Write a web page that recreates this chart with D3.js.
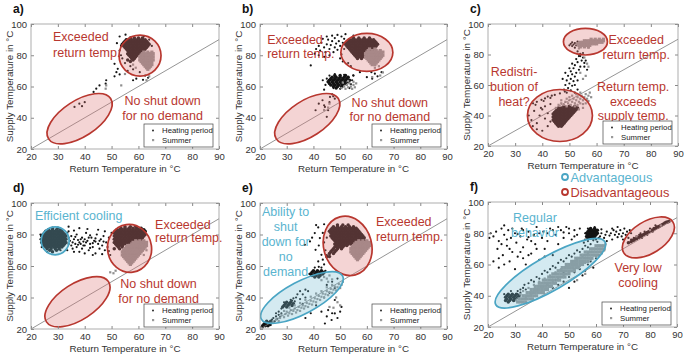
<!DOCTYPE html>
<html>
<head>
<meta charset="utf-8">
<script src="https://cdn.jsdelivr.net/npm/d3@7"></script>
<style>
  body { margin: 0; background: #fff; }
  svg { display: block; font-family: "Liberation Sans", Arial, Helvetica, sans-serif; }
</style>
</head>
<body>
<svg id="chart" width="685" height="357"></svg>
<script>
const xTicks = [20, 30, 40, 50, 60, 70, 80, 90];
const yTicks = [20, 40, 60, 80, 100];
const xTitle = "Return Temperature in °C";
const yTitle = "Supply Temperature in °C";
const seriesNames = ["Heating period", "Summer"];

// dense cores are listed row by row: [supply temp, [return temps...]]
// loose points are flat lists: x, y, x, y ...

// ---- panel a ----
const aHeatRows = [
  [91, [57, 58.5, 60, 61.5]],
  [90, [55.5, 56.5, 57.5, 58.5, 59.5, 60.5, 61.5, 62.5]],
  [89, [55, 56, 57, 58, 59, 60, 61, 62, 63]],
  [88, [54.5, 55.5, 56.5, 57.5, 58.5, 59.5, 60.5, 61.5, 62.5, 63.5]],
  [87, [54, 55, 56, 57, 58, 59, 60, 61, 62, 63, 64]],
  [86, [54.5, 55.5, 56.5, 57.5, 58.5, 59.5, 60.5, 61.5, 62.5, 63.5]],
  [85, [55, 56, 57, 58, 59, 60, 61, 62, 63]],
  [84, [55.5, 56.5, 57.5, 58.5, 59.5, 60.5, 61.5, 62.5]],
  [83, [56, 57, 58, 59, 60, 61, 62]],
  [82, [56.5, 57.5, 58.5, 59.5, 60.5, 61.5]],
  [81, [56, 57, 58, 59, 60]],
  [80, [56.5, 57.5, 58.5, 59.5]],
  [79, [57, 58, 59]],
  [78, [57.5, 58.5]],
  [77, [56, 58]],
  [76, [57]]
];
const aHeatPts = [55.2,93.2, 53,92, 52,87.7, 53.5,86, 51.1,74.5, 52.3,71.3, 51.8,69.2, 53,67.7, 51.1,66.5, 48,64,
  47.8,61.8, 45.5,60.7, 44.3,58.6, 43.3,56.5, 39,47.4, 36.2,46.9, 38,49, 40,50, 58,64, 59.2,65, 61.7,64.3, 62.5,67,
  63.6,65.6, 60.5,69.2, 54,78, 55,75, 53.5,80, 57,73, 58,71, 56,70, 62,92, 64,90, 65,86, 53,83];
const aSumRows = [
  [82, [62, 63.5, 65]],
  [81, [61.5, 62.5, 63.5, 64.5, 65.5]],
  [80, [61, 62, 63, 64, 65]],
  [79, [60.5, 61.5, 62.5, 63.5, 64.5, 65.5]],
  [78, [61, 62, 63, 64, 65]],
  [77, [60.5, 61.5, 62.5, 63.5, 64.5, 65.5]],
  [76, [61, 62, 63, 64, 65]],
  [75, [61.5, 62.5, 63.5, 64.5]],
  [74, [62, 63, 64, 65]],
  [73, [62.5, 63.5, 64.5]],
  [72, [63, 64]],
  [71, [63.5]]
];
const aSumPts = [48,60.7, 47.8,58.6, 53.6,60.7, 63,64, 55,68, 64,66.5, 58,74, 59,72];

// ---- panel b ----
const bHeatRows = [
  [91, [55, 57, 59, 61]],
  [90, [53.5, 54.5, 55.5, 56.5, 57.5, 58.5, 59.5, 60.5, 61.5, 62.5]],
  [89, [53, 54, 55, 56, 57, 58, 59, 60, 61, 62, 63]],
  [88, [52.5, 53.5, 54.5, 55.5, 56.5, 57.5, 58.5, 59.5, 60.5, 61.5, 62.5, 63.5]],
  [87, [52, 53, 54, 55, 56, 57, 58, 59, 60, 61, 62, 63, 64]],
  [86, [52.5, 53.5, 54.5, 55.5, 56.5, 57.5, 58.5, 59.5, 60.5, 61.5, 62.5, 63.5]],
  [85, [53, 54, 55, 56, 57, 58, 59, 60, 61, 62, 63]],
  [84, [53.5, 54.5, 55.5, 56.5, 57.5, 58.5, 59.5, 60.5, 61.5, 62.5]],
  [83, [54, 55, 56, 57, 58, 59, 60, 61, 62]],
  [82, [54.5, 55.5, 56.5, 57.5, 58.5, 59.5, 60.5, 61.5]],
  [81, [55, 56, 57, 58, 59, 60]],
  [80, [55.5, 56.5, 57.5, 58.5, 59.5]],
  [79, [56, 57, 58, 59]],
  [78, [56.5, 58]],
  [67, [48, 50, 52]],
  [66, [47, 48.5, 50, 51.5, 53]],
  [65, [46.5, 48, 49.5, 51, 52.5]],
  [64, [46, 47.5, 49, 50.5, 52, 53.5]],
  [63, [45.5, 47, 48.5, 50, 51.5, 53]],
  [62, [46, 47.5, 49, 50.5, 52]],
  [61, [46.5, 48, 49.5, 51]],
  [60, [47.5, 49, 50.5]],
  [59, [48.5]]
];
const bHeatPts = [41,84, 42,86, 42.5,83, 43,88, 44,85, 44.5,82, 45,87, 45.5,90, 46,84, 46.5,86.5, 47,89, 47.5,82,
  48,85, 48,91, 48.5,87.5, 49,83.5, 49.5,89, 50,86, 50.5,92, 50.5,80.5, 51,88, 51.5,84, 51.5,90.5, 49,93, 47,92.5,
  45,92, 43.5,90.5, 46,80, 44,79, 39,73.5, 40.5,81, 42,80, 50,78, 51,76, 53,75, 54,73, 52,93.5, 55,92.5,
  44.5,61, 45,65, 47.5,59, 49,60, 50,58.5, 51,60, 53.5,59, 54,61.5, 54.5,64, 55,67, 46,67, 44,58, 43.5,64,
  48,68, 51.5,67.5, 54.9,67.1, 57.4,69.2, 61.7,69.2, 63,68.2, 65.5,69.2, 60,66, 62,65, 64,66.5,
  42,49, 43.4,51.2, 44.3,46.9, 45.5,44.8, 40.8,44.8, 45,40.6, 48,52.2, 46.2,53.3, 47.4,53.7, 44,48, 46,50, 47,55];
const bSumRows = [
  [84, [61, 63]],
  [83, [60.5, 62, 63.5, 65]],
  [82, [60, 61, 62, 63, 64, 65, 66]],
  [81, [59.5, 60.5, 61.5, 62.5, 63.5, 64.5, 65.5]],
  [80, [60, 61, 62, 63, 64, 65, 66]],
  [79, [59.5, 60.5, 61.5, 62.5, 63.5, 64.5, 65.5]],
  [78, [60, 61, 62, 63, 64, 65]],
  [77, [60.5, 61.5, 62.5, 63.5, 64.5]],
  [76, [61, 62, 63, 64]],
  [75, [61.5, 62.5, 63.5]],
  [74, [62, 63]]
];
const bSumPts = [50.5,59, 51.5,60, 52,58.5, 52.5,61, 53,59.5, 53.5,62, 54,60, 54.5,58.5, 55,61, 55.5,59.5, 56,62,
  51,62.5, 53,63.5, 55,63, 45.5,46.5, 44,45, 46,49, 65,67, 66,69, 62,66, 63,72, 64.5,73];

// ---- panel c ----
const cHeatRows = [
  [46, [48, 50, 52]],
  [45, [46, 47, 48, 49, 50, 51, 52, 53]],
  [44, [45.5, 46.5, 47.5, 48.5, 49.5, 50.5, 51.5, 52.5]],
  [43, [45, 46, 47, 48, 49, 50, 51, 52]],
  [42, [44.5, 45.5, 46.5, 47.5, 48.5, 49.5, 50.5, 51.5]],
  [41, [44, 45, 46, 47, 48, 49, 50, 51]],
  [40, [44.5, 45.5, 46.5, 47.5, 48.5, 49.5, 50.5]],
  [39, [44, 45, 46, 47, 48, 49, 50]],
  [38, [44.5, 45.5, 46.5, 47.5, 48.5, 49.5]],
  [37, [44, 45, 46, 47, 48, 49]],
  [36, [44.5, 45.5, 46.5, 47.5, 48.5]],
  [35, [45, 46, 47, 48]],
  [34, [45.5, 46.5, 47.5]],
  [33, [46, 47]]
];
const cHeatPts = [50,86, 50.5,87, 51,85.5, 51.5,86.5, 52,87.5, 52.5,86, 53,87, 53.5,85.5, 51,88, 52,84.5, 53,88.5,
  54,86.5, 55,87.5,
  53,82, 54,80.5, 53.5,79, 55,78, 52.5,77, 54.5,76, 53,75, 55.5,74.5, 52,73, 54,72, 51.5,71, 53.5,70, 50.5,69,
  52.5,68, 51,67, 49.5,66, 52,65.5, 50.5,64, 49,63, 51.5,62.5, 50,61, 48.5,60, 51,59.5, 49.5,58, 48,57, 50.5,56.5,
  49,55, 52,55, 53,57, 54,79, 55,81, 56,76, 51,74, 50,71, 48.5,68, 47.5,64, 52,60, 53,63, 55.5,72, 56.5,70,
  36.6,48, 38,49, 39.7,50.3, 41,51.2, 42,52.4, 43.5,53, 44.6,53.5, 46.5,54.5, 48.3,55.7, 37.5,47, 40.5,49.5, 43,51.5,
  35,40, 36,37, 37,43, 38,35, 39,40, 40,44, 41,38, 42,33, 40,30, 43,36, 38,31, 36.5,33, 42,41.5, 39.5,45, 41,46, 43,47.5];
const cSumRows = [
  [90, [58, 59.5, 61, 62.5]],
  [89, [55.5, 56.5, 57.5, 58.5, 59.5, 60.5, 61.5, 62.5]],
  [88, [54, 55, 56, 57, 58, 59, 60, 61, 62]],
  [87, [53, 54, 55, 56, 57, 58, 59, 60]],
  [86, [53.5, 54.5, 55.5, 56.5, 57.5]],
  [85, [54, 55.5, 57]]
];
const cSumPts = [55.5,78, 56.5,74, 57,72, 54,68, 56,66, 55,64, 53.5,84, 57,84.5,
  46,47, 47,48, 48,47, 48.5,49, 49,46, 49.5,48, 50,50, 50.5,47, 51,49, 51.5,51, 52,48, 52.5,50, 53,52, 53.5,49,
  54,51, 54.5,53, 55,50, 55.5,52, 56,54, 56.5,51, 57,53, 57.5,55, 58,52, 52,46, 53,47, 54,48, 55,47.5, 50,52,
  51,53, 52.5,54, 54,55, 49,51, 47,50, 45,45, 53.5,44, 55,45, 56,48, 57,49.5];

// ---- panel d ----
const dHeatRows = [
  [84, [28, 30]],
  [83, [26.5, 28, 29.5, 31]],
  [82, [25.5, 26.5, 27.5, 28.5, 29.5, 30.5, 31.5]],
  [81, [25, 26, 27, 28, 29, 30, 31, 32]],
  [80, [24.5, 25.5, 26.5, 27.5, 28.5, 29.5, 30.5, 31.5, 32.5]],
  [79, [24, 25, 26, 27, 28, 29, 30, 31, 32, 33]],
  [78, [24.5, 25.5, 26.5, 27.5, 28.5, 29.5, 30.5, 31.5, 32.5]],
  [77, [24, 25, 26, 27, 28, 29, 30, 31, 32, 33]],
  [76, [24.5, 25.5, 26.5, 27.5, 28.5, 29.5, 30.5, 31.5, 32.5]],
  [75, [24, 25, 26, 27, 28, 29, 30, 31, 32, 33]],
  [74, [24.5, 25.5, 26.5, 27.5, 28.5, 29.5, 30.5, 31.5, 32.5]],
  [73, [25, 26, 27, 28, 29, 30, 31, 32]],
  [72, [25.5, 26.5, 27.5, 28.5, 29.5, 30.5, 31.5]],
  [71, [26, 27.5, 29, 30.5]],
  [70, [27, 29.5]],
  [69, [28]],
  [85, [55, 57, 59]],
  [84, [53.5, 55, 56.5, 58, 59.5, 61]],
  [83, [52, 53, 54, 55, 56, 57, 58, 59, 60, 61, 62]],
  [82, [51.5, 52.5, 53.5, 54.5, 55.5, 56.5, 57.5, 58.5, 59.5, 60.5, 61.5, 62.5]],
  [81, [51, 52, 53, 54, 55, 56, 57, 58, 59, 60, 61, 62]],
  [80, [51.5, 52.5, 53.5, 54.5, 55.5, 56.5, 57.5, 58.5, 59.5, 60.5, 61.5, 62.5]],
  [79, [51, 52, 53, 54, 55, 56, 57, 58, 59, 60, 61, 62]],
  [78, [51.5, 52.5, 53.5, 54.5, 55.5, 56.5, 57.5, 58.5, 59.5, 60.5, 61.5]],
  [77, [51, 52, 53, 54, 55, 56, 57, 58, 59, 60, 61]],
  [76, [51.5, 52.5, 53.5, 54.5, 55.5, 56.5, 57.5, 58.5]],
  [75, [51, 52, 53, 54, 55, 56, 57]],
  [74, [51.5, 52.5, 53.5, 54.5, 55.5]],
  [73, [52, 53, 54]],
  [72, [52.5, 54]],
  [71, [51, 53]]
];
const dHeatPts = [34,82, 34.5,76, 35,79, 35,73, 35.5,71, 36,77, 36.5,74, 37,80, 37,72, 37.5,76.5, 38,69, 38.5,74,
  39,78, 39,71, 39.5,75.5, 40,73, 40.5,81, 41,76, 41.5,70, 42,74, 42.5,78, 43,72, 43.5,76, 44,68, 44.5,80, 45,74,
  45.5,71, 46,77, 46.5,73, 47,79, 47.5,70, 48,75, 48.5,72, 49,78, 49.5,67, 50,81, 45,83, 41,83.5, 38,84, 43,67,
  40,68, 36,69, 46.5,67.5, 42,79.5, 47.5,82, 49,69.5, 33.5,70, 34,85, 36,82.5, 44,75.5, 40,77, 38,75, 42,71.5,
  34,78, 35.5,75, 36.5,78.5, 37.5,73.5, 38.5,77, 39.5,73, 40.5,75, 41.5,78, 43,74.5, 44,77.5, 45.5,76, 47,75.5,
  23.5,77, 23.5,80, 24,72, 34,74, 33.5,81, 26,69, 31,70];
const dSumRows = [
  [76, [59, 60.5, 62]],
  [75, [58, 59, 60, 61, 62, 63]],
  [74, [57.5, 58.5, 59.5, 60.5, 61.5, 62.5]],
  [73, [56, 57, 58, 59, 60, 61, 62, 63]],
  [72, [55.5, 56.5, 57.5, 58.5, 59.5, 60.5, 61.5, 62.5]],
  [71, [55, 56, 57, 58, 59, 60, 61, 62]],
  [70, [54.5, 55.5, 56.5, 57.5, 58.5, 59.5, 60.5, 61.5]],
  [69, [54, 55, 56, 57, 58, 59, 60, 61]],
  [68, [54.5, 55.5, 56.5, 57.5, 58.5, 59.5, 60.5]],
  [67, [54, 55, 56, 57, 58, 59, 60]],
  [66, [54.5, 55.5, 56.5, 57.5, 58.5, 59.5]],
  [65, [55, 56, 57, 58, 59]],
  [64, [55.5, 56.5, 57.5, 58.5]],
  [63, [56, 57, 58]],
  [62, [56.5, 57.5]],
  [61, [57]]
];
const dSumPts = [50.7,55.4, 51.5,57, 49.5,56, 62,67, 63,70];

// ---- panel e ----
const eHeatRows = [
  [86, [49, 51, 53]],
  [85, [47.5, 49, 50.5, 52, 53.5, 55]],
  [84, [47, 48, 49, 50, 51, 52, 53, 54, 55, 56]],
  [83, [46.5, 47.5, 48.5, 49.5, 50.5, 51.5, 52.5, 53.5, 54.5, 55.5, 56.5]],
  [82, [46, 47, 48, 49, 50, 51, 52, 53, 54, 55, 56, 57]],
  [81, [46.5, 47.5, 48.5, 49.5, 50.5, 51.5, 52.5, 53.5, 54.5, 55.5, 56.5, 57.5]],
  [80, [47, 48, 49, 50, 51, 52, 53, 54, 55, 56, 57, 58]],
  [79, [46.5, 47.5, 48.5, 49.5, 50.5, 51.5, 52.5, 53.5, 54.5, 55.5, 56.5, 57.5, 58.5]],
  [78, [47, 48, 49, 50, 51, 52, 53, 54, 55, 56, 57, 58, 59]],
  [77, [47.5, 48.5, 49.5, 50.5, 51.5, 52.5, 53.5, 54.5, 55.5, 56.5, 57.5, 58.5]],
  [76, [48, 49, 50, 51, 52, 53, 54, 55, 56, 57, 58, 59]],
  [75, [48.5, 49.5, 50.5, 51.5, 52.5, 53.5, 54.5, 55.5, 56.5]],
  [74, [48, 49, 50, 51, 52, 53, 54]],
  [73, [48.5, 49.5, 50.5, 51.5, 52.5]],
  [72, [48, 49, 50, 51]],
  [71, [47.5, 49, 50.5]],
  [70, [47, 48.5]],
  [69, [46.5, 48]],
  [68, [46, 47.5]],
  [66, [45, 46]],
  [57, [40, 41.5, 43]],
  [56, [39.5, 41, 42.5, 44]],
  [55, [39, 40.5, 42, 43.5]],
  [54, [39.5, 41, 42.5]],
  [53, [40.5, 42]],
  [25, [22.5, 24]],
  [24, [22, 23, 24]],
  [23, [21.5, 22.5, 23.5]],
  [22, [21, 22, 23]],
  [37, [30, 31.5]],
  [36, [29.5, 31, 32.5]],
  [35, [29, 30.5, 32]],
  [34, [28.5, 30]]
];
const eHeatPts = [41.8,84.5, 40.5,80.9, 42.4,77.7, 38.7,75.6, 36.8,73.5, 40.8,70.3, 43,67.1, 41.8,62.9, 43.5,81,
  44,75, 42,73, 44.5,70, 43.5,64, 45,67, 39.5,78, 41,86, 44,86.5, 45,78, 43,59, 44,61,
  38.5,55, 40.5,59, 42,59.5, 44.5,57,
  21,21, 24,22.5, 24.5,26, 25,24, 25,27, 25.5,25, 26,28, 26.5,26.5, 27,29, 27.5,27.5, 26,30, 27,31, 28,30,
  28,33, 31,36.5, 31.5,38.5, 32,38, 32.5,39.5, 33,37.5, 29,37, 33.5,40,
  35,39, 36,42, 37,40, 38,44, 37,45, 35,44, 34,42, 36,36, 45.5,32, 48,29.9, 44.3,23.5, 46.8,25.7, 50.5,34, 48,38.4,
  49,27, 47,30, 45,28, 43,31, 50,31, 39,30, 37,27, 41,35, 44,40, 46,43, 48,46, 45,48, 47,50, 49,52];
const eSumRows = [
  [76, [57, 58.5, 60]],
  [75, [56, 57, 58, 59, 60, 61]],
  [74, [55.5, 56.5, 57.5, 58.5, 59.5, 60.5]],
  [73, [55, 56, 57, 58, 59, 60, 61]],
  [72, [54.5, 55.5, 56.5, 57.5, 58.5, 59.5, 60.5]],
  [71, [54, 55, 56, 57, 58, 59, 60]],
  [70, [54.5, 55.5, 56.5, 57.5, 58.5, 59.5]],
  [69, [54, 55, 56, 57, 58, 59]],
  [68, [54.5, 55.5, 56.5, 57.5, 58.5]],
  [67, [55, 56, 57, 58]],
  [66, [55.5, 56.5, 57.5]],
  [65, [56, 57]],
  [64, [56.5]]
];
const eSumPts = [25,24, 26,26, 27,25, 27.5,27, 28,29, 29,27.5, 29.5,29.5, 30,31, 30.5,28.5, 31,30, 31.5,32, 32,29.5,
  32.5,31.5, 33,33, 33.5,30.5, 34,32, 34.5,34, 35,31.5, 35.5,33.5, 36,35, 36.5,33, 37,34.5, 37.5,36.5, 38,34,
  38.5,36, 39,38, 39.5,35.5, 40,37.5, 40.5,39.5, 41,37, 41.5,39, 42,41, 42.5,38.5, 43,40.5, 43.5,42.5, 44,40,
  44.5,42, 45,44, 45.5,41.5, 46,43.5, 46.5,45.5, 47,43, 47.5,45, 48,47, 48.5,44.5, 49,46.5, 49.5,48.5, 50,46,
  50.5,48, 51,50, 47,48, 45,46.5, 43,44, 41,42.5, 39,40.5, 37,38.5, 35,36.5, 33,35, 31,33.5, 29,31.5, 50,35,
  48.5,40, 49,37, 47.5,33.5, 46,34, 44,53, 45,52, 46,54, 45.5,50, 47,51.5, 43,51];

// ---- panel f ----
const fHeatRows = [
  [83, [58, 59.5]],
  [82, [57.5, 58.5, 59.5, 60.5]],
  [81, [57, 58, 59, 60]],
  [80, [56.5, 57.5, 58.5, 59.5, 60.5]],
  [79, [57, 58, 59, 60]],
  [78, [56.5, 57.5, 58.5, 59.5]],
  [77, [57, 58, 59]],
  [41, [27.5, 29, 30.5]],
  [40, [27, 28.5, 30, 31.5]],
  [39, [26.5, 28, 29.5, 31]],
  [38, [27, 28.5, 30]],
  [37, [26.5, 28, 29.5]],
  [36, [27.5]]
];
// the "very low cooling" streak, where supply and return almost coincide
const fHeatLine = [72,74, 73,74.5, 73.5,75.5, 74,75.5, 74.5,76.5, 75,76.5, 75.5,77.5, 76,77.5, 76.5,78.5, 77,78.5,
  77.5,79, 78,79.5, 78.5,80, 79,80.5, 79.5,81, 80,81.5, 80.5,82, 81,82, 81.5,83, 82,83, 82.5,84, 83,84, 83.5,84.5,
  84,85, 84.5,85.5, 85,86, 85.5,86.5, 86,87, 86.5,87.2, 87,87.5];
const fHeatPts = [21,80, 22,78, 23,81, 23.5,70, 24,75, 25,83, 25.5,66, 26,79, 27,72, 27.5,82, 28,62, 28.5,77, 29,68,
  30,80, 30.5,74, 31,65, 32,78, 32.5,83, 33,71, 34,60, 34.5,76, 35,81, 36,67, 37,79, 37.5,73, 38,84, 39,63, 40,77,
  40.5,81, 41,70, 42,75, 43,83, 44,66, 45,79, 46,73, 47,82, 48,77, 49,84, 50,80, 51,76, 44,82, 39,80, 36,75, 26,85,
  30,57, 33,64, 22,62, 24,58, 20.5,77, 52,82, 53,79, 54,83, 27,76, 29,83, 31,79.5, 33,82, 35,77.5, 42,80, 46,84,
  48,80.5, 50,83, 52,78, 25,73, 28,70, 32,68, 35,66, 38,70, 41,65, 24,64, 26,60,
  56,76, 57,75, 59,75.5, 59.5,84, 60,76, 56,80, 57,83, 55.5,74, 60.5,74.5, 61,77,
  61.5,78, 62,80, 63,77, 63.5,79, 64,81, 65,78.5, 65.5,80, 66,76, 66.5,82, 67,79, 67.5,81, 68,77.5, 68.5,79.5, 69,82,
  69.5,78, 70,80, 70.5,83, 71,79, 71.5,81, 72,77, 72.5,82, 73,80, 64,75, 62,82.5, 68,84, 70,76, 66,83,
  74,77, 76,79, 78,81, 80,83, 82,85, 77,77, 79,79, 81,81, 83,83.5, 75,78, 73,76, 76.5,80,
  31,41, 31,43, 32,42, 32,44, 26,41, 28.5,43, 33,45, 33.5,47, 34,44, 35,48, 36,50, 37,49, 38,52,
  39,51, 40,54, 41,56, 42,55, 43,57, 44,59, 45,58, 46,61, 47,63, 48,62, 49,64, 50,66, 51,65, 52,67, 53,69, 54,68,
  55,70, 56,72, 57,71, 58,73,
  40,44, 42,47, 44,45, 45,50, 46,47, 48,49, 50,52, 52,55, 54,57, 55,53, 57,60, 58,62, 60,64, 59,58, 61,66, 50,45,
  52,49, 56,56, 48,55, 44,52];
const fSumRows = [
  [72, [60, 61, 62, 63]],
  [70, [58, 59, 60, 61, 62, 63]],
  [68, [56, 57, 58, 59, 60, 61, 62]],
  [66, [54.5, 55.5, 56.5, 57.5, 58.5, 59.5, 60.5]],
  [64, [52.5, 53.5, 54.5, 55.5, 56.5, 57.5, 58.5]],
  [62, [51, 52, 53, 54, 55, 56, 57]],
  [60, [49, 50, 51, 52, 53, 54, 55]],
  [58, [47.5, 48.5, 49.5, 50.5, 51.5, 52.5, 53.5]],
  [56, [46, 47, 48, 49, 50, 51, 52]],
  [54, [44, 45, 46, 47, 48, 49, 50]],
  [52, [42.5, 43.5, 44.5, 45.5, 46.5, 47.5, 48.5]],
  [50, [40.5, 41.5, 42.5, 43.5, 44.5, 45.5, 46.5]],
  [48, [39, 40, 41, 42, 43, 44, 45]],
  [46, [37.5, 38.5, 39.5, 40.5, 41.5, 42.5, 43.5]],
  [44, [36, 37, 38, 39, 40, 41, 42]],
  [42, [34.5, 35.5, 36.5, 37.5, 38.5, 39.5, 40.5]],
  [40, [33, 34, 35, 36, 37, 38]],
  [38, [31.5, 32.5, 33.5, 34.5, 35.5, 36.5]],
  [36, [31, 32, 33, 34]]
];
const fSumPts = [61,72, 59,70, 57,67, 55,65, 53,63, 51,61, 49,59, 47,57, 45,55, 43,53, 41,51, 39,49, 37,47, 35,45,
  33,43, 32,41, 30.5,37, 34,39, 36,41, 38,43, 40,45, 42,47, 44,49, 46,51, 48,53, 50,55, 52,57, 54,59, 56,61, 58,63,
  60,65, 62,67, 63,69, 63.5,73, 53,50, 56,54, 75,78, 80,82, 84,85];

// ---- annotations: ellipse centre in data units, radii in px, rotation in degrees ----
const RED = "red", BLUE = "blue";
const aShapes = [
  { kind: RED, cx: 60.6, cy: 79.8, rx: 21, ry: 20.5, rot: 0 },
  { kind: RED, cx: 38.1, cy: 39.4, rx: 37, ry: 18, rot: -33 }
];
const bShapes = [
  { kind: RED, cx: 60, cy: 81.8, rx: 26, ry: 19, rot: 0 },
  { kind: RED, cx: 37.7, cy: 39.4, rx: 37, ry: 18, rot: -33 }
];
const cShapes = [
  { kind: RED, cx: 55.9, cy: 88.4, rx: 22, ry: 13.3, rot: 0 },
  { kind: RED, cx: 46.5, cy: 40, rx: 32.5, ry: 26, rot: 0 }
];
const dShapes = [
  { kind: BLUE, cx: 29, cy: 76, rx: 14, ry: 14, rot: 0 },
  { kind: RED, cx: 56.7, cy: 71.2, rx: 22, ry: 24, rot: -8 },
  { kind: RED, cx: 37.3, cy: 37.3, rx: 37, ry: 18, rot: -33 }
];
const eShapes = [
  { kind: RED, cx: 52.8, cy: 72.8, rx: 24, ry: 30, rot: -15 },
  { kind: BLUE, cx: 35.7, cy: 40, rx: 46, ry: 16, rot: -28 }
];
const fShapes = [
  { kind: BLUE, cx: 43.1, cy: 54.4, rx: 63, ry: 17, rot: -30 },
  { kind: RED, cx: 79.4, cy: 77.3, rx: 29, ry: 16, rot: -32 }
];

const aNotes = [
  { kind: RED, x: 28.2, y: 91.7, anchor: "start", text: "Exceeded" },
  { kind: RED, x: 28.2, y: 81.4, anchor: "start", text: "return temp." },
  { kind: RED, x: 69, y: 50.7, anchor: "middle", text: "No shut down" },
  { kind: RED, x: 69, y: 41.1, anchor: "middle", text: "for no demand" }
];
const bNotes = [
  { kind: RED, x: 22.7, y: 89.8, anchor: "start", text: "Exceeded" },
  { kind: RED, x: 22.7, y: 80.6, anchor: "start", text: "return temp." },
  { kind: RED, x: 68.6, y: 49.6, anchor: "middle", text: "No shut down" },
  { kind: RED, x: 68.6, y: 40.3, anchor: "middle", text: "for no demand" }
];
const cNotes = [
  { kind: RED, x: 74.6, y: 89.5, anchor: "middle", text: "Exceeded" },
  { kind: RED, x: 74.6, y: 79.7, anchor: "middle", text: "return temp." },
  { kind: RED, x: 29.6, y: 68.7, anchor: "middle", text: "Redistri-" },
  { kind: RED, x: 29.6, y: 58.5, anchor: "middle", text: "bution of" },
  { kind: RED, x: 29.6, y: 49, anchor: "middle", text: "heat?" },
  { kind: RED, x: 73.5, y: 58.5, anchor: "middle", text: "Return temp." },
  { kind: RED, x: 73.5, y: 49, anchor: "middle", text: "exceeds" },
  { kind: RED, x: 73.5, y: 39.7, anchor: "middle", text: "supply temp." }
];
const dNotes = [
  { kind: BLUE, x: 21.5, y: 91.9, anchor: "start", text: "Efficient cooling" },
  { kind: RED, x: 66.2, y: 86, anchor: "start", text: "Exceeded" },
  { kind: RED, x: 66.2, y: 77.6, anchor: "start", text: "return temp." },
  { kind: RED, x: 67.5, y: 48.6, anchor: "middle", text: "No shut down" },
  { kind: RED, x: 67.5, y: 39, anchor: "middle", text: "for no demand" }
];
const eNotes = [
  { kind: BLUE, x: 29.6, y: 94.5, anchor: "middle", text: "Ability to" },
  { kind: BLUE, x: 29.6, y: 84.6, anchor: "middle", text: "shut" },
  { kind: BLUE, x: 29.6, y: 75.1, anchor: "middle", text: "down for" },
  { kind: BLUE, x: 29.6, y: 65.5, anchor: "middle", text: "no" },
  { kind: BLUE, x: 29.6, y: 56, anchor: "middle", text: "demand" },
  { kind: RED, x: 63.4, y: 87.7, anchor: "start", text: "Exceeded" },
  { kind: RED, x: 63.4, y: 78.2, anchor: "start", text: "return temp." }
];
const fNotes = [
  { kind: BLUE, x: 37.4, y: 89.6, anchor: "middle", text: "Regular" },
  { kind: BLUE, x: 37.4, y: 80, anchor: "middle", text: "behavior" },
  { kind: RED, x: 75.6, y: 58, anchor: "middle", text: "Very low" },
  { kind: RED, x: 75.6, y: 48, anchor: "middle", text: "cooling" }
];

const pairs = flat => d3.range(0, flat.length, 2).map(i => [flat[i], flat[i + 1]]);
const fromRows = rows => rows.flatMap(([yv, xs]) => xs.map(xv => [xv, yv]));

const panels = [
  { label: "a)", left: 31, right: 219, top: 24, bottom: 149,
    heatCore: fromRows(aHeatRows), heat: pairs(aHeatPts), sumCore: fromRows(aSumRows), summer: pairs(aSumPts),
    shapes: aShapes, notes: aNotes },
  { label: "b)", left: 260, right: 447, top: 24, bottom: 149,
    heatCore: fromRows(bHeatRows), heat: pairs(bHeatPts), sumCore: fromRows(bSumRows), summer: pairs(bSumPts),
    shapes: bShapes, notes: bNotes },
  { label: "c)", left: 488, right: 678, top: 24, bottom: 146,
    heatCore: fromRows(cHeatRows), heat: pairs(cHeatPts), sumCore: fromRows(cSumRows), summer: pairs(cSumPts),
    shapes: cShapes, notes: cNotes },
  { label: "d)", left: 31, right: 219, top: 203, bottom: 329,
    heatCore: fromRows(dHeatRows), heat: pairs(dHeatPts), sumCore: fromRows(dSumRows), summer: pairs(dSumPts),
    shapes: dShapes, notes: dNotes },
  { label: "e)", left: 260, right: 447, top: 203, bottom: 329,
    heatCore: fromRows(eHeatRows), heat: pairs(eHeatPts), sumCore: fromRows(eSumRows), summer: pairs(eSumPts),
    shapes: eShapes, notes: eNotes },
  { label: "f)", left: 488, right: 677, top: 202, bottom: 327,
    heatCore: fromRows(fHeatRows).concat(pairs(fHeatLine)), heat: pairs(fHeatPts),
    sumCore: fromRows(fSumRows), summer: pairs(fSumPts),
    shapes: fShapes, notes: fNotes }
];

const style = {
  red:  { stroke: "#b8372f", fill: "#dc7878", text: "#b8372f" },
  blue: { stroke: "#4aa5c4", fill: "#78bed2", text: "#5ab4cf" }
};

const svg = d3.select("#chart");

panels.forEach((p, i) => {
  const x = d3.scaleLinear().domain([20, 90]).range([p.left, p.right]);
  const y = d3.scaleLinear().domain([20, 100]).range([p.bottom, p.top]);
  const g = svg.append("g");

  g.append("rect")
    .attr("x", p.left).attr("y", p.top)
    .attr("width", p.right - p.left).attr("height", p.bottom - p.top)
    .attr("fill", "#fff");

  const clipId = "clip" + i;
  g.append("clipPath").attr("id", clipId).append("rect")
    .attr("x", p.left).attr("y", p.top)
    .attr("width", p.right - p.left).attr("height", p.bottom - p.top);

  const plot = g.append("g").attr("clip-path", `url(#${clipId})`);

  plot.selectAll(".heatCore").data(p.heatCore).enter().append("circle")
    .attr("class", "heatCore")
    .attr("cx", d => x(d[0])).attr("cy", d => y(d[1]))
    .attr("r", 1.75).attr("fill", "#141414");

  plot.selectAll(".heat").data(p.heat).enter().append("circle")
    .attr("class", "heat")
    .attr("cx", d => x(d[0])).attr("cy", d => y(d[1]))
    .attr("r", 1.1).attr("fill", "#141414");

  plot.selectAll(".sumCore").data(p.sumCore).enter().append("rect")
    .attr("class", "sumCore")
    .attr("x", d => x(d[0]) - 1.6).attr("y", d => y(d[1]) - 1.6)
    .attr("width", 3.2).attr("height", 3.2).attr("fill", "#8f8f8f");

  plot.selectAll(".summer").data(p.summer).enter().append("rect")
    .attr("class", "summer")
    .attr("x", d => x(d[0]) - 1.1).attr("y", d => y(d[1]) - 1.1)
    .attr("width", 2.2).attr("height", 2.2).attr("fill", "#8f8f8f");

  plot.append("line")
    .attr("x1", x(20)).attr("y1", y(20)).attr("x2", x(90)).attr("y2", y(90))
    .attr("stroke", "#7a7a7a").attr("stroke-width", 0.8);

  p.shapes.forEach(s => {
    plot.append("ellipse")
      .attr("transform", `translate(${x(s.cx)},${y(s.cy)}) rotate(${s.rot})`)
      .attr("rx", s.rx).attr("ry", s.ry)
      .attr("fill", style[s.kind].fill).attr("fill-opacity", 0.32)
      .attr("stroke", style[s.kind].stroke).attr("stroke-width", 1.7);
  });

  // axes, MATLAB style: inward ticks on all four sides
  const axes = [
    g.append("g").attr("transform", `translate(0,${p.bottom})`)
      .call(d3.axisBottom(x).tickValues(xTicks).tickSize(-3).tickPadding(4)),
    g.append("g").attr("transform", `translate(0,${p.top})`)
      .call(d3.axisTop(x).tickValues(xTicks).tickSize(-3).tickFormat("")),
    g.append("g").attr("transform", `translate(${p.left},0)`)
      .call(d3.axisLeft(y).tickValues(yTicks).tickSize(-3).tickPadding(4)),
    g.append("g").attr("transform", `translate(${p.right},0)`)
      .call(d3.axisRight(y).tickValues(yTicks).tickSize(-3).tickFormat(""))
  ];
  axes.forEach(a => {
    a.select(".domain").remove();
    a.selectAll(".tick line").attr("stroke", "#888");
    a.selectAll(".tick text").attr("fill", "#333").style("font-size", "9.5px")
      .style("font-family", "'Liberation Sans', Arial, sans-serif");
  });

  g.append("rect")
    .attr("x", p.left).attr("y", p.top)
    .attr("width", p.right - p.left).attr("height", p.bottom - p.top)
    .attr("fill", "none").attr("stroke", "#9a9a9a").attr("stroke-width", 0.8);

  p.notes.forEach(n => {
    g.append("text")
      .attr("x", x(n.x)).attr("y", y(n.y))
      .attr("text-anchor", n.anchor).attr("dominant-baseline", "central")
      .attr("fill", style[n.kind].text).style("font-size", "12.5px")
      .text(n.text);
  });

  // legend box
  const lx = p.right - 75, ly = p.bottom - 25;
  const lg = g.append("g").attr("transform", `translate(${lx},${ly})`);
  lg.append("rect").attr("width", 69).attr("height", 23)
    .attr("fill", "#fff").attr("stroke", "#444").attr("stroke-width", 0.7);
  lg.append("circle").attr("cx", 9).attr("cy", 6.5).attr("r", 0.9).attr("fill", "#111");
  lg.append("rect").attr("x", 8).attr("y", 15).attr("width", 2.2).attr("height", 2.2).attr("fill", "#999");
  lg.selectAll(".lt").data(seriesNames).enter().append("text")
    .attr("x", 18).attr("y", (d, k) => 6.5 + k * 10)
    .attr("dominant-baseline", "central")
    .attr("fill", "#222").style("font-size", "7.8px").text(d => d);

  // axis titles and panel letter
  g.append("text")
    .attr("x", (p.left + p.right) / 2).attr("y", p.bottom + 19)
    .attr("text-anchor", "middle").attr("dominant-baseline", "central")
    .attr("fill", "#333").style("font-size", "9.8px").text(xTitle);
  g.append("text")
    .attr("transform", `translate(${p.left - 22},${(p.top + p.bottom) / 2}) rotate(-90)`)
    .attr("text-anchor", "middle").attr("dominant-baseline", "central")
    .attr("fill", "#333").style("font-size", "9.8px").text(yTitle);
  g.append("text")
    .attr("x", p.left - 18).attr("y", p.top - 11)
    .attr("fill", "#111").style("font-size", "12px").style("font-weight", "bold")
    .text(p.label);
});

// shared legend between c) and f)
const keyItems = [
  { kind: BLUE, text: "Advantageous" },
  { kind: RED, text: "Disadvantageous" }
];
const key = svg.append("g").attr("transform", "translate(565,177)");
keyItems.forEach((k, i) => {
  key.append("circle").attr("cx", 0).attr("cy", i * 15).attr("r", 3)
    .attr("fill", "none").attr("stroke", style[k.kind].stroke).attr("stroke-width", 1.8);
  key.append("text").attr("x", 5.5).attr("y", i * 15)
    .attr("dominant-baseline", "central")
    .attr("fill", style[k.kind].text).style("font-size", "12.8px").text(k.text);
});
</script>
</body>
</html>
